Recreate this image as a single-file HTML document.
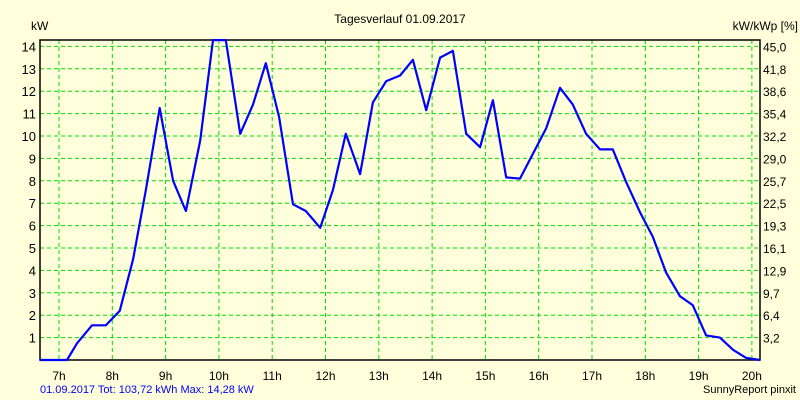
<!DOCTYPE html>
<html><head><meta charset="utf-8"><style>
body{margin:0;background:#ffffdb;}
svg{display:block;font-family:"Liberation Sans",sans-serif;}
</style></head><body>
<svg id="chart" width="800" height="400">
<rect width="800" height="400" fill="#ffffdb"/>
<text x="400" y="23" font-size="12" text-anchor="middle">Tagesverlauf 01.09.2017</text>
<text x="31" y="30" font-size="12">kW</text>
<text x="798" y="30" font-size="12" text-anchor="end">kW/kWp [%]</text>
<text x="40" y="393" font-size="11" fill="#0000ff">01.09.2017 Tot: 103,72 kWh Max: 14,28 kW</text>
<text x="796" y="393" font-size="11" text-anchor="end">SunnyReport pinxit</text>
<g id="grid"></g><g id="axes"></g>
</svg>
<script>
const hourTicks=[7,8,9,10,11,12,13,14,15,16,17,18,19,20];
const kwTicks=[1,2,3,4,5,6,7,8,9,10,11,12,13,14];
const pctLabels=["3,2","6,4","9,7","12,9","16,1","19,3","22,5","25,7","29,0","32,2","35,4","38,6","41,8","45,0"];
const times=[6.64,7.15,7.34,7.62,7.88,8.14,8.39,8.63,8.89,9.14,9.38,9.65,9.89,10.13,10.40,10.64,10.88,11.13,11.39,11.63,11.90,12.14,12.38,12.65,12.89,13.14,13.40,13.64,13.89,14.15,14.39,14.64,14.90,15.14,15.39,15.65,16.14,16.40,16.64,16.89,17.15,17.39,17.64,17.90,18.14,18.39,18.65,18.89,19.14,19.40,19.65,19.89,20.15];
const power=[0,0,0.75,1.55,1.55,2.2,4.5,7.6,11.25,8.0,6.65,9.8,14.28,14.28,10.1,11.4,13.25,10.85,6.95,6.65,5.9,7.6,10.1,8.3,11.5,12.45,12.7,13.4,11.15,13.5,13.8,10.1,9.5,11.6,8.15,8.1,10.35,12.15,11.4,10.1,9.4,9.4,7.95,6.6,5.5,3.9,2.85,2.45,1.1,1.0,0.45,0.1,0];
const L=40,R=760,T=40,B=360;
const x=t=>59+(t-7)*53.3;
const y=v=>B-v*22.4;
const NS="http://www.w3.org/2000/svg";
const svg=document.getElementById('chart');
const grid=document.getElementById('grid');
const axes=document.getElementById('axes');
function mk(tag,attrs,parent){const e=document.createElementNS(NS,tag);for(const k in attrs)e.setAttribute(k,attrs[k]);parent.appendChild(e);return e;}
hourTicks.forEach(h=>{
 const g=mk('line',{x1:x(h),x2:x(h),y1:T,y2:B,stroke:'#00dd00','stroke-dasharray':'4,3'},grid);
 
 
 const t=mk('text',{x:x(h),y:B+20,'font-size':12,'text-anchor':'middle'},axes);
 t.textContent=h+'h';
 
 
});
kwTicks.forEach((k,i)=>{
 const g=mk('line',{x1:L,x2:R,y1:y(k),y2:y(k),stroke:'#00dd00','stroke-dasharray':'4,3'},grid);
 
 
 const t=mk('text',{x:L-4,y:y(k)+5,'font-size':13,'text-anchor':'end'},axes);
 t.textContent=k;
 
 
 const t2=mk('text',{x:R+3,y:y(k)+5,'font-size':12},axes);
 t2.textContent=pctLabels[i];
 
 
});
const f=mk('path',{d:`M${L} ${T}H${R}V${B}H${L}Z`,fill:'none',stroke:'#000','stroke-width':1.5},axes);


const line=mk('polyline',{points:times.map((t,i)=>x(t).toFixed(1)+','+y(power[i]).toFixed(1)).join(' '),fill:'none',stroke:'#0000ff','stroke-width':2.2,'stroke-linejoin':'round'},axes);


</script>
</body></html>
